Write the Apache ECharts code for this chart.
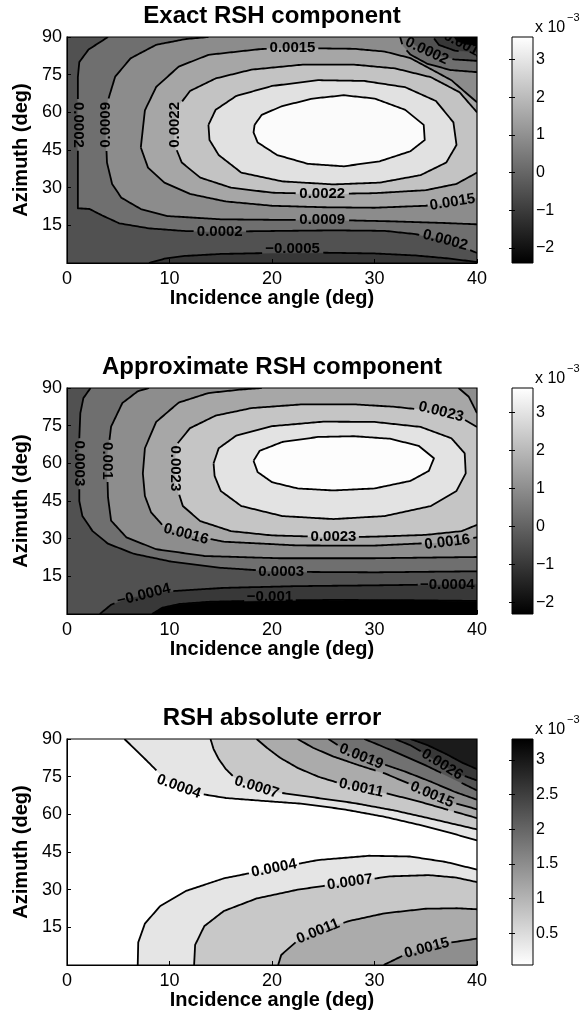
<!DOCTYPE html>
<html>
<head>
<meta charset="utf-8">
<script src="https://cdn.jsdelivr.net/npm/echarts@6/dist/echarts.min.js"></script>
<style>
  html, body { margin: 0; padding: 0; background: #fff; }
  #chart { width: 584px; height: 1015px; }
</style>
</head>
<body>
<div id="chart"></div>
<script>
  const FONT = '"Liberation Sans", Arial, Helvetica, sans-serif'
  const LABEL_SIZE = 15

  // axes
  const incidenceTicks = [0, 10, 20, 30, 40]
  const azimuthTicks = [15, 30, 45, 60, 75, 90]
  const titles = ['Exact RSH component', 'Approximate RSH component', 'RSH absolute error']

  // colour limits of each colorbar, in units of 1e-3
  const exactClim = [-2.4, 3.6]
  const approxClim = [-2.3, 3.65]
  const errorClim = [0.04, 3.3]
  const exactBarTicks = [-2, -1, 0, 1, 2, 3]
  const approxBarTicks = [-2, -1, 0, 1, 2, 3]
  const errorBarTicks = [0.5, 1, 1.5, 2, 2.5, 3]

  // ---- exact RSH: regions above each contour level, [incidence, azimuth] ----
  const fullRect = [[0, 0], [40, 0], [40, 90], [0, 90]]
  const exactM0011 = [[0, 0], [40, 0], [40, 86.4], [38.85, 86.9], [38.0, 88.2], [37.7, 90], [0, 90]]
  const exactM0005 = [[0, 0], [8, 0], [9.5, 1.7], [11.5, 2.8], [15, 3.6], [20, 4.0], [25, 4.1], [30, 3.8], [34, 3.0], [37, 1.9], [39, 0.9], [40, 0.4],
    [40, 83.7], [37.85, 84.55], [36.28, 86.85], [35.7, 90], [0, 90]]
  const exactP0002 = [[4, 90], [2.1, 85], [1.2, 80], [1.06, 74], [1.06, 21.8], [2.2, 21.5], [3.4, 19], [5.1, 15.8], [8, 13.8], [11.6, 12.7],
    [15, 12.5], [19, 12.7], [26, 13], [31, 12.8], [34, 11.5], [36.9, 9.1], [38.5, 6.5], [40, 4], [40, 80.5], [37.78, 81.07],
    [35.82, 82.72], [34.68, 84.55], [33.89, 86.75], [33.5, 90]]
  const exactP0009 = [[13.8, 90], [11.6, 89.2], [8.7, 86.9], [6.2, 81.5], [4.7, 74.2], [4.0, 64.8], [3.8, 50], [3.9, 40], [4.4, 31.5],
    [5.3, 26], [7.2, 21.5], [9.8, 18.7], [15, 17.4], [20, 17.2], [25, 17.2], [31.6, 16.6], [37, 15.9], [40, 15.4], [40, 76],
    [37.43, 76.84], [35.18, 79.28], [33.5, 83], [32.76, 86.38], [32.5, 90]]
  const exactP0015 = [[7.2, 46], [7.6, 60.8], [8.7, 70.1], [10.9, 78.2], [13.8, 82.9], [18.9, 85.2], [22, 85.6], [28, 85.3], [31, 84.2],
    [33.5, 81.6], [35.5, 77.2], [37.5, 72.8], [39, 67.5], [40, 64], [40, 26], [37.6, 24.2], [35, 22.8], [30, 22], [25, 22.2],
    [20, 22.8], [15.5, 24.5], [12, 27.5], [9.5, 32], [7.9, 38]]
  const exactP0022 = [[10.5, 54], [10.8, 62], [12, 68.5], [14.5, 73.5], [18, 77], [23, 79], [28, 79], [32, 77.5], [35.5, 74], [38.3, 68],
    [40, 60], [40, 36], [38, 31.5], [35, 29], [30, 27.8], [25, 27.5], [20, 28], [16, 30], [13, 34], [11.2, 40], [10.5, 47]]
  const exactP0029 = [[13.8, 55], [14.5, 61], [16.5, 66.5], [20, 70.5], [24.5, 72.8], [29, 72.5], [33, 70], [36, 64.5], [37.7, 56], [38, 47],
    [37, 40], [34.5, 35], [30.5, 32], [26, 31.3], [21, 32.5], [17, 36], [14.8, 43], [13.9, 49]]
  const exactP0035 = [[18.3, 55], [19, 59], [21, 62.5], [24, 65.5], [27, 66.8], [30, 65.5], [33, 61], [34.8, 55], [34.9, 49], [33.5, 44.5],
    [30.5, 40.5], [27, 38.5], [23.5, 39.5], [20.5, 43], [18.6, 48], [18.2, 52]]
  const exactLevels = [-0.0011, -0.0005, 0.0002, 0.0009, 0.0015, 0.0022, 0.0029, 0.0035]
  const exactRegions = [exactM0011, exactM0005, exactP0002, exactP0009, exactP0015, exactP0022, exactP0029, exactP0035]
  // [incidence, azimuth, text, angle]
  const exactLabels = [
    [1.06, 55, '0.0002', -90], [3.8, 55, '0.0009', 90], [10.5, 55, '0.0022', 90],
    [22, 85.6, '0.0015', 0], [35.1, 84.4, '0.0002', -25], [38.4, 87.5, '−0.0011', -28],
    [24.9, 27.5, '0.0022', 0], [37.6, 24.2, '0.0015', 9], [24.9, 17.2, '0.0009', 0],
    [14.9, 12.5, '0.0002', 0], [36.9, 9.1, '0.0002', -15], [22, 5.6, '−0.0005', 0]
  ]

  // ---- approximate RSH ----
  const approxM0010 = [[0, 0], [8.3, 0], [9.3, 2.5], [11, 4.0], [14, 4.9], [19.8, 5.4], [26, 5.6], [33, 5.5], [40, 5.2], [40, 90], [0, 90]]
  const approxM0004 = [[0, 0], [3.2, 0], [4.3, 3.7], [5.8, 6.2], [7.5, 7.6], [9.8, 9], [15.3, 10.4], [22.5, 11.1], [29.8, 11.4],
    [37.1, 11.8], [40, 12], [40, 90], [0, 90]]
  const approxP0003 = [[2.3, 90], [1.6, 86], [1.3, 80], [1.2, 70], [1.2, 45], [1.5, 39], [2.5, 33], [4, 28], [6.5, 24], [10, 21],
    [15, 18.4], [20.9, 16.8], [30, 16.6], [40, 17], [40, 90]]
  const approxP0010 = [[8, 90], [6.9, 88.7], [5.4, 84], [4.3, 74.6], [3.9, 61], [4.0, 46.5], [4.3, 37.2], [5.8, 30.5], [8.7, 25.8],
    [13.4, 23.1], [20.7, 22.2], [29.8, 22.2], [40, 22.7], [40, 90]]
  const approxP0016 = [[19, 90], [17, 89.4], [13.8, 88], [10.9, 84.2], [8.7, 76.5], [7.6, 66], [7.4, 56], [7.6, 47], [8.2, 40.5],
    [9.4, 35], [11.6, 31.8], [15.3, 28.8], [22.5, 27.3], [29.8, 27.2], [37.1, 28.6], [40, 30.5], [40, 80], [39.2, 86.5], [38.2, 90]]
  const approxP0023 = [[10.5, 60], [10.8, 68], [12, 74], [14.5, 79], [18, 82], [23, 83.5], [28, 83.5], [32, 82.5], [36.5, 80.5],
    [38.5, 78], [40, 74.5], [40, 35.5], [38.5, 33], [35, 31.5], [30, 30.8], [26, 30.6], [20, 31.3], [16, 33], [13, 37],
    [11.3, 43], [10.6, 52]]
  const approxP0030 = [[14.3, 60], [14.8, 66], [16.5, 71], [20, 74.8], [25, 76.6], [30, 76.5], [34.5, 74.5], [37.5, 70], [38.8, 64],
    [38.9, 56], [38, 49], [35.5, 43], [31, 39], [26, 37.8], [21, 39], [17, 43], [15, 49], [14.4, 55]]
  const approxP0036 = [[18.2, 61], [18.8, 65], [21, 68.5], [24.5, 70.5], [28, 70.8], [31.5, 69.8], [34.3, 67], [35.8, 62], [35.3, 57],
    [33.5, 53], [30, 50], [26, 49.2], [22.5, 50], [20, 52.5], [18.6, 56.5]]
  const approxLevels = [-0.0010, -0.0004, 0.0003, 0.0010, 0.0016, 0.0023, 0.0030, 0.0036]
  const approxRegions = [approxM0010, approxM0004, approxP0003, approxP0010, approxP0016, approxP0023, approxP0030, approxP0036]
  const approxLabels = [
    [1.2, 60, '0.0003', -90], [3.9, 61, '0.001', -90], [10.55, 58, '0.0023', -90],
    [36.5, 80.5, '0.0023', -14], [11.6, 31.8, '0.0016', -15], [26, 30.6, '0.0023', 0],
    [37.1, 28.6, '0.0016', 7], [20.9, 16.8, '0.0003', 0], [37.1, 11.8, '−0.0004', 0],
    [7.5, 7.6, '−0.0004', 14], [19.8, 6.9, '−0.001', 0]
  ]

  // ---- absolute error: upper (top right) and lower (bottom right) regions ----
  const errorU0004 = [[5.6, 90], [6.5, 86.5], [7.5, 82.5], [8.6, 78], [9.6, 74], [10.9, 71], [12.8, 68.3], [15.5, 66.5], [19, 65.4],
    [23, 64.2], [27, 62], [31, 59], [34.5, 55.7], [37.5, 52.5], [40, 49.6], [40, 90]]
  const errorL0004 = [[6.9, 0], [6.95, 9], [7.6, 16.5], [9.1, 23.5], [11.6, 29.5], [15.3, 34.5], [20.2, 38.5], [24.5, 41.8],
    [29.5, 43.5], [33.5, 43.2], [37, 41], [40, 38], [40, 0]]
  const errorU0007 = [[14, 90], [14.3, 86], [14.8, 82], [15.5, 78], [16.3, 74.8], [17.3, 72.5], [18.5, 70.8], [21, 68.5], [24.5, 66.5],
    [28, 64.5], [32, 61.5], [36, 57.8], [40, 54], [40, 90]]
  const errorL0007 = [[12.4, 0], [12.5, 8], [13.4, 15.5], [15.3, 21.5], [18.5, 26.5], [22.5, 30], [27.6, 33], [31.5, 35.3],
    [35.3, 35.8], [38, 34.8], [40, 33], [40, 0]]
  const errorU0011 = [[18.5, 90], [19.5, 86.5], [20.8, 82.5], [22.5, 78.5], [24.5, 75], [26.5, 72.5], [28.7, 70.5], [31, 68.5],
    [34, 65.5], [37, 62], [40, 58.5], [40, 90]]
  const errorL0011 = [[20.6, 0], [20.9, 4], [22.3, 9], [24.5, 13.4], [27.5, 17.5], [31, 20.6], [35, 22.4], [38, 22.6], [40, 22.2], [40, 0]]
  const errorU0015 = [[22.5, 90], [24, 86.5], [26, 83], [28.5, 79.5], [31, 76.3], [33.5, 72], [35.6, 67.8], [37.8, 64.5], [40, 62], [40, 90]]
  const errorL0015 = [[30.9, 0], [32.7, 3.6], [35.1, 6.7], [37.5, 9], [40, 10.5], [40, 0]]
  const errorU0019 = [[25.5, 90], [27, 86], [28.7, 83], [30.5, 80.5], [33, 77], [35.5, 73], [37.8, 69], [40, 65.8], [40, 90]]
  const errorU0022 = [[29, 90], [30.5, 87.5], [32.5, 84], [35, 79.5], [37.5, 74.5], [40, 69.5], [40, 90]]
  const errorU0026 = [[32, 90], [33.5, 87.5], [35, 84], [36.5, 80], [38.3, 76], [40, 73.5], [40, 90]]
  const errorU0030 = [[33.5, 90], [35.2, 87.5], [37, 84], [38.6, 80.5], [40, 78], [40, 90]]
  const errorLevels = [0.00037, 0.00037, 0.00074, 0.00074, 0.00111, 0.00111, 0.00148, 0.00148, 0.00185, 0.00222, 0.00259, 0.00296]
  const errorRegions = [errorU0004, errorL0004, errorU0007, errorL0007, errorU0011, errorL0011, errorU0015, errorL0015,
    errorU0019, errorU0022, errorU0026, errorU0030]
  const errorLabels = [
    [10.9, 71, '0.0004', -20], [18.5, 70.8, '0.0007', -17], [28.7, 70.5, '0.0011', -12],
    [35.6, 67.8, '0.0015', -23], [28.7, 83, '0.0019', -22], [36.6, 79.8, '0.0026', -32],
    [20.2, 38.5, '0.0004', 11], [27.6, 33, '0.0007', 8], [24.5, 13.4, '0.0011', 22], [35.1, 6.7, '0.0015', 15]
  ]

  // ---- layout ----
  const plotTops = [37, 388, 739]
  const plotH = 226

  const gray = (level, clim, reversed) => {
    let t = (level * 1000 - clim[0]) / (clim[1] - clim[0])
    t = Math.max(0, Math.min(1, t))
    if (reversed) t = 1 - t
    const g = Math.round(255 * t)
    return `rgb(${g},${g},${g})`
  }

  const buildFills = (clim, levels, regions) =>
    [[clim[0] / 1000, fullRect]].concat(levels.map((l, i) => [l, regions[i]]))

  const onSameBorder = (a, b) =>
    (a[0] === b[0] && (a[0] === 0 || a[0] === 40)) || (a[1] === b[1] && (a[1] === 0 || a[1] === 90))

  const textWidth = (str, size) => {
    let w = 0
    for (const ch of str) w += ch === '.' ? 0.278 : ch === '−' ? 0.584 : 0.556
    return w * size
  }

  const labelBox = (l, api) => {
    const th = (l[3] * Math.PI) / 180
    return { c: api.coord([l[0], l[1]]), cos: Math.cos(th), sin: Math.sin(th), hw: textWidth(l[2], LABEL_SIZE) / 2 + 2, hh: LABEL_SIZE / 2 }
  }
  const inBox = (p, b) => {
    const dx = p[0] - b.c[0], dy = p[1] - b.c[1]
    const u = dx * b.cos - dy * b.sin
    const v = dx * b.sin + dy * b.cos
    return Math.abs(u) < b.hw && Math.abs(v) < b.hh
  }

  const fillSeries = (idx, fills, clim, reversed) => ({
    type: 'custom', xAxisIndex: idx, yAxisIndex: idx, clip: true, z: 2, silent: true,
    data: fills.map(f => f[1][0]),
    renderItem: (params, api) => {
      const [level, pts] = fills[params.dataIndex]
      const c = gray(level, clim, reversed)
      return { type: 'polygon', shape: { points: pts.map(p => api.coord(p)) }, style: { fill: c, stroke: c, lineWidth: 0.6 } }
    }
  })

  // contour lines, broken where a label sits
  const lineSeries = (idx, fills, labels) => ({
    type: 'custom', xAxisIndex: idx, yAxisIndex: idx, clip: true, z: 3, silent: true,
    data: fills.map(f => f[1][0]),
    renderItem: (params, api) => {
      const pts = fills[params.dataIndex][1]
      const boxes = labels.map(l => labelBox(l, api))
      const paths = []
      let cur = []
      const flush = () => { if (cur.length > 1) paths.push(cur); cur = [] }
      for (let k = 0; k < pts.length; k++) {
        const a = pts[k], b = pts[(k + 1) % pts.length]
        if (onSameBorder(a, b)) { flush(); continue }
        const pa = api.coord(a), pb = api.coord(b)
        const n = Math.max(1, Math.ceil(Math.hypot(pb[0] - pa[0], pb[1] - pa[1]) / 2))
        for (let s = 0; s <= n; s++) {
          if (s === 0 && cur.length) continue
          const p = [pa[0] + ((pb[0] - pa[0]) * s) / n, pa[1] + ((pb[1] - pa[1]) * s) / n]
          if (boxes.some(bx => inBox(p, bx))) flush()
          else cur.push(p)
        }
      }
      flush()
      return {
        type: 'group',
        children: paths.map(p => ({ type: 'polyline', shape: { points: p }, style: { stroke: '#000', lineWidth: 1.8, fill: null, lineJoin: 'round' } }))
      }
    }
  })

  const labelSeries = (idx, labels) => ({
    type: 'custom', xAxisIndex: idx, yAxisIndex: idx, clip: true, z: 4, silent: true,
    data: labels.map(l => [l[0], l[1]]),
    renderItem: (params, api) => {
      const l = labels[params.dataIndex]
      const c = api.coord([l[0], l[1]])
      return {
        type: 'text', x: c[0], y: c[1], rotation: (l[3] * Math.PI) / 180,
        style: { text: l[2], fill: '#000', font: `bold ${LABEL_SIZE}px ${FONT}`, align: 'center', verticalAlign: 'middle' }
      }
    }
  })

  const frameSeries = idx => ({
    type: 'custom', xAxisIndex: idx, yAxisIndex: idx, z: 5, silent: true,
    data: [[0, 0]],
    renderItem: (params, api) => {
      const a = api.coord([0, 90]), b = api.coord([40, 0])
      return { type: 'rect', shape: { x: a[0], y: a[1], width: b[0] - a[0], height: b[1] - a[1] }, style: { fill: null, stroke: '#000', lineWidth: 1.2 } }
    }
  })

  const colorbarSeries = (idx, clim, reversed) => ({
    type: 'custom', xAxisIndex: idx, yAxisIndex: idx, z: 2, silent: true,
    data: [[0, clim[0]]],
    renderItem: (params, api) => {
      const a = api.coord([0, clim[1]]), b = api.coord([1, clim[0]])
      const shape = { x: a[0], y: a[1], width: b[0] - a[0], height: b[1] - a[1] }
      const top = reversed ? '#000' : '#fff', bottom = reversed ? '#fff' : '#000'
      return {
        type: 'group',
        children: [
          { type: 'rect', shape, style: { fill: new echarts.graphic.LinearGradient(0, 0, 0, 1, [{ offset: 0, color: top }, { offset: 1, color: bottom }]) } },
          { type: 'rect', shape, style: { fill: null, stroke: '#000', lineWidth: 1 } }
        ]
      }
    }
  })

  const climList = [exactClim, approxClim, errorClim]
  const barTickList = [exactBarTicks, approxBarTicks, errorBarTicks]
  const fillList = [
    buildFills(exactClim, exactLevels, exactRegions),
    buildFills(approxClim, approxLevels, approxRegions),
    buildFills(errorClim, errorLevels, errorRegions)
  ]
  const labelList = [exactLabels, approxLabels, errorLabels]
  const reversedList = [false, false, true]

  const grid = [], xAxis = [], yAxis = [], series = [], graphic = []
  const minus = v => (v < 0 ? '−' + Math.abs(v) : String(v))

  plotTops.forEach((top, i) => {
    grid.push({ left: 67, top, width: 410, height: plotH })
    xAxis.push({
      gridIndex: i, type: 'value', min: incidenceTicks[0], max: incidenceTicks[incidenceTicks.length - 1], interval: 10, z: 6,
      axisLine: { show: true, lineStyle: { color: '#000', width: 1 } },
      axisTick: { show: true, inside: true, length: 4, lineStyle: { color: '#000' } },
      axisLabel: { color: '#000', fontSize: 18, fontFamily: FONT, margin: 7 },
      splitLine: { show: false },
      name: 'Incidence angle (deg)', nameLocation: 'middle', nameGap: 25,
      nameTextStyle: { color: '#000', fontSize: 20, fontWeight: 'bold', fontFamily: FONT }
    })
    yAxis.push({
      gridIndex: i, type: 'value', min: 0, max: 90, interval: 15, z: 6,
      axisLine: { show: true, lineStyle: { color: '#000', width: 1 } },
      axisTick: { show: true, inside: true, length: 4, lineStyle: { color: '#000' } },
      axisLabel: { color: '#000', fontSize: 18, fontFamily: FONT, margin: 5, formatter: v => (azimuthTicks.includes(v) ? String(v) : '') },
      splitLine: { show: false },
      name: 'Azimuth (deg)', nameLocation: 'middle', nameGap: 36,
      nameTextStyle: { color: '#000', fontSize: 20, fontWeight: 'bold', fontFamily: FONT }
    })
    graphic.push({
      type: 'text', x: 272, y: top - 21,
      style: { text: titles[i], font: `bold 24px ${FONT}`, fill: '#000', align: 'center', verticalAlign: 'middle' }
    })
    graphic.push({ type: 'text', x: 535, y: top - 9, style: { text: 'x 10', font: `16px ${FONT}`, fill: '#000', align: 'left', verticalAlign: 'middle' } })
    graphic.push({ type: 'text', x: 567, y: top - 19, style: { text: '−3', font: `11px ${FONT}`, fill: '#000', align: 'left', verticalAlign: 'middle' } })
  })

  // colorbars: grids 3..5
  plotTops.forEach((top, i) => {
    const clim = climList[i], ticks = barTickList[i]
    grid.push({ left: 512, top, width: 21, height: plotH })
    xAxis.push({ gridIndex: 3 + i, type: 'value', min: 0, max: 1, show: false })
    yAxis.push({
      gridIndex: 3 + i, type: 'value', min: clim[0], max: clim[1], position: 'right', z: 6,
      axisLine: { show: false },
      axisTick: { show: true, inside: true, length: 3, customValues: ticks, lineStyle: { color: '#000' } },
      axisLabel: { color: '#000', fontSize: 16, fontFamily: FONT, margin: 3, customValues: ticks, formatter: minus },
      splitLine: { show: false }
    })
  })
  plotTops.forEach((top, i) => {
    const clim = climList[i], ticks = barTickList[i]
    yAxis.push({
      gridIndex: 3 + i, type: 'value', min: clim[0], max: clim[1], position: 'left', z: 6,
      axisLine: { show: false },
      axisTick: { show: true, inside: true, length: 3, customValues: ticks, lineStyle: { color: '#000' } },
      axisLabel: { show: false },
      splitLine: { show: false }
    })
  })

  for (let i = 0; i < 3; i++) {
    series.push(fillSeries(i, fillList[i], climList[i], reversedList[i]))
    series.push(lineSeries(i, fillList[i], labelList[i]))
    series.push(labelSeries(i, labelList[i]))
    series.push(frameSeries(i))
    series.push(colorbarSeries(3 + i, climList[i], reversedList[i]))
  }

  const chart = echarts.init(document.getElementById('chart'), null, { renderer: 'canvas' })
  chart.setOption({ animation: false, backgroundColor: '#fff', grid, xAxis, yAxis, series, graphic })
  window.addEventListener('resize', () => chart.resize())
</script>
</body>
</html>
